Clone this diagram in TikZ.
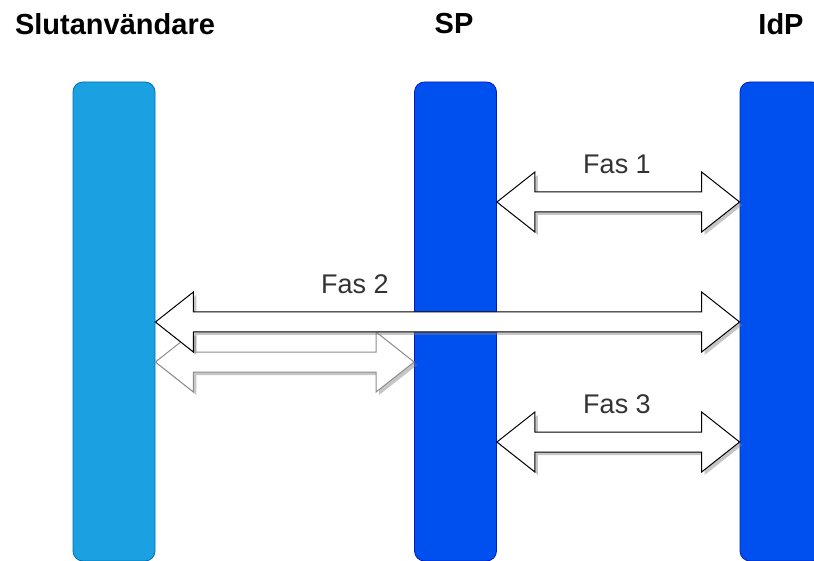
\documentclass[tikz,border=0pt]{standalone}
\usepackage{fontspec}
\setmainfont{Liberation Sans}
\usetikzlibrary{calc,shadows}
\definecolor{userblue}{HTML}{1BA1E2}
\definecolor{userline}{HTML}{006EAF}
\definecolor{spblue}{HTML}{0050EF}
\definecolor{spline}{HTML}{001DBC}

% fat double arrow between two points on one line
\newcommand{\fasarrow}[3][black]{%
	\filldraw[fill=white, draw=#1, line width=1pt, line join=miter,
		drop shadow={shadow xshift=3pt, shadow yshift=-3pt, opacity=0.45, fill=black!50}]
		(#2) -- ($(#2)+(38,-30)$) -- ($(#2)+(38,-10)$) -- ($(#3)+(-38,-10)$) -- ($(#3)+(-38,-30)$)
		-- (#3) -- ($(#3)+(-38,30)$) -- ($(#3)+(-38,10)$) -- ($(#2)+(38,10)$) -- ($(#2)+(38,30)$) -- cycle;
}

\begin{document}
\begin{tikzpicture}[x=1pt, y=-1pt,
		bar/.style={rectangle, rounded corners=10pt, inner sep=0pt, minimum width=82pt, minimum height=479pt, line width=0.8pt},
		title/.style={font=\fontsize{29}{32}\selectfont\bfseries},
		fas/.style={font=\fontsize{27}{30}\selectfont, text=black!80}]
		\useasboundingbox (0,0) rectangle (814,561);
		
		\node[title] (tuser) at (115,24) {Slutanvändare};
		\node[title] (tsp) at (454,24) {SP};
		\node[title] (tidp) at (781,24) {IdP};
		
		\node[bar, fill=userblue, draw=userline] (user) at (114,321.5) {};
		\node[bar, fill=spblue, draw=spline] (sp) at (455.5,321.5) {};
		\node[bar, fill=spblue, draw=spline] (idp) at (781,321.5) {};
		
		% ends of the arrows
		\coordinate (f1l) at (sp.east |- 0,202);
		\coordinate (f1r) at (idp.west |- 0,202);
		\coordinate (f2l) at (user.east |- 0,322);
		\coordinate (f2r) at (idp.west |- 0,322);
		\coordinate (ul) at (user.east |- 0,362);
		\coordinate (ur) at (sp.west |- 0,362);
		\coordinate (f3l) at (sp.east |- 0,442);
		\coordinate (f3r) at (idp.west |- 0,442);
		
		\fasarrow[black!45]{ul}{ur}
		\fasarrow{f2l}{f2r}
		\fasarrow{f1l}{f1r}
		\fasarrow{f3l}{f3r}
		
		\node[fas] (fas1) at (617,164) {Fas 1};
		\node[fas] (fas2) at (355,284) {Fas 2};
		\node[fas] (fas3) at (617,404) {Fas 3};
	\end{tikzpicture}
\end{document}
